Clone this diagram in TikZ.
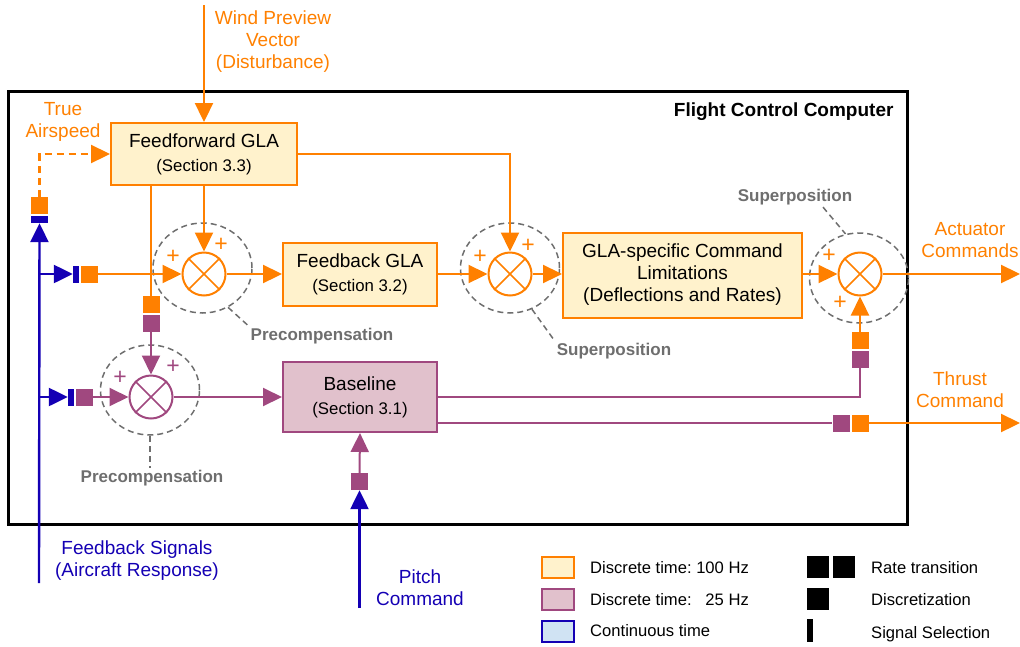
\documentclass[tikz,border=0pt]{standalone}
\usepackage{fontspec}
\setmainfont{Liberation Sans}
\usetikzlibrary{arrows.meta,shapes.geometric}
\definecolor{fcorange}{HTML}{FF8000}
\definecolor{fcyellow}{HTML}{FFF2CC}
\definecolor{fcpurple}{HTML}{A0487F}
\definecolor{fcpink}{HTML}{E1C1CC}
\definecolor{fcblue}{HTML}{1400B4}
\definecolor{fcsky}{HTML}{D0E3F3}
\definecolor{fcgray}{HTML}{6E6E6E}
\newcommand{\sect}[1]{{\fontsize{16.8}{20}\selectfont #1}}
\frenchspacing

\begin{document}
\begin{tikzpicture}[x=1pt, y=-1pt, >={Triangle[length=19pt,width=18pt]}]
              \tikzstyle{block} = [draw, line width=2pt, align=center, font=\fontsize{19}{22}\selectfont]
              \tikzstyle{fast} = [block, draw=fcorange, fill=fcyellow]
              \tikzstyle{slow} = [block, draw=fcpurple, fill=fcpink]
              \tikzstyle{sum} = [circle, draw, line width=2pt, minimum size=43pt, inner sep=0pt]
              \tikzstyle{zone} = [ellipse, draw=fcgray, dash pattern=on 6pt off 4pt, line width=1.5pt, minimum width=99pt, minimum height=90pt, inner sep=0pt]
              \tikzstyle{disc} = [minimum size=17pt, inner sep=0pt]
              \tikzstyle{sel} = [fill=fcblue, inner sep=0pt]
              \tikzstyle{note} = [text=fcgray, font=\bfseries\fontsize{17}{20}\selectfont, inner sep=2pt]
              \tikzstyle{lead} = [draw=fcgray, dash pattern=on 6pt off 4pt, line width=1.5pt]
              \tikzstyle{signal} = [align=center, font=\fontsize{19}{22}\selectfont]
              \tikzstyle{legend} = [anchor=west, inner sep=0pt, font=\fontsize{16.6}{20}\selectfont]
              \tikzstyle{key} = [line width=2pt, minimum width=32pt, minimum height=21pt, inner sep=0pt]
              \tikzstyle{oline} = [draw=fcorange, line width=2.3pt]
              \tikzstyle{pline} = [draw=fcpurple, line width=2pt]
              \tikzstyle{bline} = [draw=fcblue, line width=2.4pt]

              \useasboundingbox (0,0) rectangle (1020,646);
              \draw[line width=3pt] (8,91) rectangle (907,524);
              \node[font=\bfseries\fontsize{19}{22}\selectfont, anchor=east] (fcc) at (897,112) {Flight Control Computer};

              \node[zone] (z1) at (202.5,268) {};
              \node[zone] (z2) at (150,390) {};
              \node[zone] (z3) at (510,268) {};
              \node[zone] (z4) at (859,278) {};

              \node[fast, minimum width=186pt, minimum height=62pt] (ff) at (204,154) {Feedforward GLA\\[2pt]\sect{(Section 3.3)}};
              \node[fast, minimum width=154pt, minimum height=63pt] (fb) at (360,274) {Feedback GLA\\[2pt]\sect{(Section 3.2)}};
              \node[fast, minimum width=239pt, minimum height=85pt] (lim) at (682.5,275) {GLA-specific Command\\Limitations\\(Deflections and Rates)};
              \node[slow, minimum width=154pt, minimum height=70pt] (base) at (360,397) {Baseline\\[2pt]\sect{(Section 3.1)}};

              \node[sum, draw=fcorange] (s1) at (204,274) {};
              \node[sum, draw=fcpurple] (s2) at (151,397) {};
              \node[sum, draw=fcorange] (s3) at (510,274) {};
              \node[sum, draw=fcorange] (s4) at (860,274) {};
              \foreach \s / \c in {s1/fcorange, s2/fcpurple, s3/fcorange, s4/fcorange} {%
                \draw[\c, line width=1.5pt] (\s.45) -- (\s.225) (\s.135) -- (\s.315);
              }
              \foreach \n / \c / \x / \y in {a/fcorange/173/257, b/fcorange/221/245, c/fcpurple/120/378, d/fcpurple/173/367,
                                             e/fcorange/480/257, f/fcorange/528/246, g/fcorange/829/256, h/fcorange/840/303} {%
                \node[text=\c, font=\fontsize{23}{24}\selectfont, inner sep=0pt] (plus\n) at (\x,\y) {+};
              }

              \node[disc, fill=fcorange] (q1) at (39.5,205.5) {};
              \node[sel, minimum width=17pt, minimum height=7pt] (b1) at (39.5,219.5) {};
              \node[sel, minimum width=6pt, minimum height=17pt] (b2) at (76,274) {};
              \node[disc, fill=fcorange] (q2) at (89.5,274) {};
              \node[sel, minimum width=6pt, minimum height=17pt] (b3) at (71,397) {};
              \node[disc, fill=fcpurple] (q3) at (84.5,397) {};
              \node[disc, fill=fcorange] (q4) at (151,304.5) {};
              \node[disc, fill=fcpurple] (q5) at (151,323.5) {};
              \node[disc, fill=fcorange] (q6) at (860,340.5) {};
              \node[disc, fill=fcpurple] (q7) at (860,359.5) {};
              \node[disc, fill=fcpurple] (q8) at (841,423) {};
              \node[disc, fill=fcorange] (q9) at (860,423) {};
              \node[disc, fill=fcpurple] (q10) at (359.5,481.5) {};

              \coordinate (wind) at (204,5);
              \coordinate (meas) at (39,583);
              \coordinate (pitch) at (359.5,608);
              \coordinate (act) at (1020,274);
              \coordinate (thr) at (1020,423);

              \draw[oline, ->] (wind) -- (ff.north);
              \draw[oline, dash pattern=on 7pt off 5pt, ->] (q1.north) |- (ff.west);
              \draw[oline, ->] (q2.east) -- (s1.west);
              \draw[oline, ->] (ff.south) -- (s1.north);
              \draw[oline, ->] (ff.east) -| (s3.north);
              \draw[oline] (ff.south -| q4) -- (q4.north);
              \draw[oline, ->] (s1.east) -- (fb.west);
              \draw[oline, ->] (fb.east) -- (s3.west);
              \draw[oline, ->] (s3.east) -- (lim.west |- s3);
              \draw[oline, ->] (lim.east |- s4) -- (s4.west);
              \draw[oline, ->] (s4.east) -- (act);
              \draw[oline, ->] (q6.north) -- (s4.south);
              \draw[oline, ->] (q9.east) -- (thr);

              \draw[pline, ->] (q5.south) -- (s2.north);
              \draw[pline, ->] (q3.east) -- (s2.west);
              \draw[pline, ->] (s2.east) -- (base.west);
              \draw[pline] (base.east) -| (q7.south);
              \draw[pline] (base.east |- q8) -- (q8.west);
              \draw[pline, ->] (q10.north) -- (base.south);

              \draw[bline, ->] (meas) -- (b1.south);
              \draw[bline, ->] (meas |- b2) -- (b2.west);
              \draw[bline, ->] (meas |- b3) -- (b3.west);
              \draw[bline, ->] (pitch) -- (q10.south);

              \node[signal, text=fcorange] (windlab) at (273,42) {Wind Preview\\Vector\\(Disturbance)};
              \node[signal, text=fcorange] (taslab) at (63,122) {True\\Airspeed};
              \node[signal, text=fcorange] (actlab) at (970,240) {Actuator\\Commands};
              \node[signal, text=fcorange] (thrlab) at (960,389.5) {Thrust\\Command};
              \node[signal, text=fcblue] (measlab) at (137,561) {Feedback Signals\\(Aircraft Response)};
              \node[signal, text=fcblue] (pitchlab) at (420,587.5) {Pitch\\Command};

              \node[note] (pre1) at (322,336) {Precompensation};
              \node[note] (pre2) at (152,478) {Precompensation};
              \node[note] (sup1) at (614,351) {Superposition};
              \node[note] (sup2) at (795,197) {Superposition};
              \draw[lead] (z1.-57) -- (pre1.north west);
              \draw[lead] (z2.south) -- (z2.south |- pre2.north);
              \draw[lead] (z3.-62) -- (sup1.north west);
              \draw[lead] ([xshift=28pt]sup2.south) -- (z4.107);

              \node[key, draw=fcorange, fill=fcyellow] (k1) at (558,567.5) {};
              \node[key, draw=fcpurple, fill=fcpink] (k2) at (558,599) {};
              \node[key, draw=fcblue, fill=fcsky] (k3) at (558,631) {};
              \node[legend] (k1t) at (590,568) {Discrete time: 100 Hz};
              \node[legend] (k2t) at (590,600) {Discrete time: \phantom{1}25 Hz};
              \node[legend] (k3t) at (590,631) {Continuous time};
              \node[fill=black, minimum size=22pt, inner sep=0pt] (r1) at (818,567) {};
              \node[fill=black, minimum size=22pt, inner sep=0pt] (r2) at (844,567) {};
              \node[fill=black, minimum size=22pt, inner sep=0pt] (r3) at (818,599) {};
              \node[fill=black, minimum width=6pt, minimum height=23pt, inner sep=0pt] (r4) at (810,630.5) {};
              \node[legend] (r1t) at (871,568) {Rate transition};
              \node[legend] (r3t) at (871,600) {Discretization};
              \node[legend] (r4t) at (871,634) {Signal Selection};

            \end{tikzpicture}
\end{document}
